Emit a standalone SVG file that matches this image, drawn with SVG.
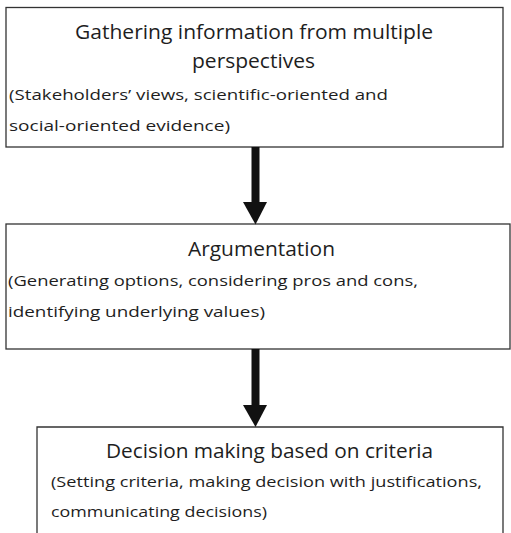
<svg xmlns="http://www.w3.org/2000/svg" width="511" height="533" viewBox="0 0 511 533">
  <style>
    .box { fill: #ffffff; stroke: #333333; stroke-width: 1.3; }
    .title { font-family: "Open Sans", "Liberation Sans", sans-serif; font-size: 20px; fill: #1e1e1e; }
    .sub { font-family: "Open Sans", "Liberation Sans", sans-serif; font-size: 15px; fill: #1e1e1e; }
    .shaft { stroke: #111111; stroke-width: 8; fill: none; }
    .head { fill: #111111; }
  </style>
  <rect width="511" height="533" fill="#ffffff"/>

  <g id="node-gathering">
    <rect class="box" x="6" y="7.5" width="497" height="139.5"/>
    <text class="title" x="75" y="39" textLength="358" lengthAdjust="spacingAndGlyphs">Gathering information from multiple</text>
    <text class="title" x="192" y="68" textLength="123" lengthAdjust="spacingAndGlyphs">perspectives</text>
    <text class="sub" x="9" y="100" textLength="379" lengthAdjust="spacingAndGlyphs">(Stakeholders’ views, scientific-oriented and</text>
    <text class="sub" x="9" y="131" textLength="221" lengthAdjust="spacingAndGlyphs">social-oriented evidence)</text>
  </g>

  <g id="node-argumentation">
    <rect class="box" x="6" y="224" width="504" height="125"/>
    <text class="title" x="188" y="256" textLength="147" lengthAdjust="spacingAndGlyphs">Argumentation</text>
    <text class="sub" x="8" y="286" textLength="410" lengthAdjust="spacingAndGlyphs">(Generating options, considering pros and cons,</text>
    <text class="sub" x="8" y="317" textLength="257" lengthAdjust="spacingAndGlyphs">identifying underlying values)</text>
  </g>

  <g id="node-decision">
    <path class="box" d="M37,540 V427 H503 V540"/>
    <text class="title" x="106" y="458" textLength="327" lengthAdjust="spacingAndGlyphs">Decision making based on criteria</text>
    <text class="sub" x="51" y="487" textLength="431" lengthAdjust="spacingAndGlyphs">(Setting criteria, making decision with justifications,</text>
    <text class="sub" x="51" y="517" textLength="216" lengthAdjust="spacingAndGlyphs">communicating decisions)</text>
  </g>

  <g id="connectors">
    <line class="shaft" x1="255.5" y1="147" x2="255.5" y2="203"/>
    <polygon class="head" points="243,202 267,202 255.5,224.5"/>
    <line class="shaft" x1="255.5" y1="349" x2="255.5" y2="406"/>
    <polygon class="head" points="243,405 267,405 255.5,427"/>
  </g>
</svg>
